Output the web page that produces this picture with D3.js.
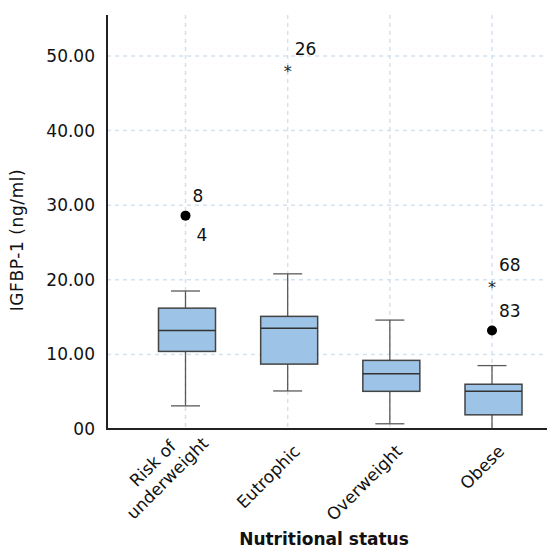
<!DOCTYPE html>
<html>
<head>
<meta charset="utf-8">
<script src="https://cdn.jsdelivr.net/npm/d3@7"></script>
<style>
  html, body { margin: 0; padding: 0; background: #fff; }
  svg { display: block; font-family: "DejaVu Sans", Verdana, sans-serif; }
</style>
</head>
<body>
<svg id="chart" width="550" height="548"></svg>
<script>
// ---- data ----
const categories = ["Risk of underweight", "Eutrophic", "Overweight", "Obese"];
const categoryLines = [["Risk of", "underweight"], ["Eutrophic"], ["Overweight"], ["Obese"]];
const whiskerLow  = [3.1, 5.1, 0.7, 0.0];
const q1          = [10.4, 8.7, 5.05, 1.9];
const median      = [13.2, 13.5, 7.4, 5.05];
const q3          = [16.2, 15.1, 9.2, 6.0];
const whiskerHigh = [18.5, 20.8, 14.6, 8.5];
// outliers: category index, value, case label(s), kind
const outlierCat    = [0, 1, 3, 3];
const outlierValue  = [28.6, 48.3, 19.3, 13.2];
const outlierLabels = [["8", "4"], ["26"], ["68"], ["83"]];
const outlierKind   = ["dot", "star", "star", "dot"];
const yTicks = [0, 10, 20, 30, 40, 50];
const yTickLabels = ["00", "10.00", "20.00", "30.00", "40.00", "50.00"];

// ---- layout ----
const svg = d3.select("#chart");
const plotLeft = 107, plotRight = 547, plotTop = 15, plotBottom = 429;

const y = d3.scaleLinear().domain([0, 55.5]).range([plotBottom, plotTop]);
const x = d3.scalePoint().domain(categories).range([185.5, 492]);

const gridColor = "#d3e2f0";
const fs = 17;

// horizontal grid
svg.append("g").selectAll("line").data(yTicks.filter(d => d > 0)).join("line")
  .attr("x1", plotLeft).attr("x2", plotRight)
  .attr("y1", d => y(d)).attr("y2", d => y(d))
  .attr("stroke", gridColor).attr("stroke-width", 1.5).attr("stroke-dasharray", "4,4");

// vertical grid
svg.append("g").selectAll("line").data(categories).join("line")
  .attr("x1", d => x(d)).attr("x2", d => x(d))
  .attr("y1", plotTop).attr("y2", plotBottom)
  .attr("stroke", gridColor).attr("stroke-width", 1.5).attr("stroke-dasharray", "4,4");

// y axis via d3
const yAxis = d3.axisLeft(y).tickValues(yTicks)
  .tickFormat((d, i) => yTickLabels[i]).tickSize(0).tickPadding(12);
const gy = svg.append("g").attr("transform", `translate(${plotLeft},0)`).call(yAxis);
gy.select(".domain").remove();
gy.selectAll("text").attr("font-size", fs).attr("fill", "#111")
  .attr("font-family", "DejaVu Sans, Verdana, sans-serif");

// boxes
const boxW = 57, capW = 29;
const boxes = svg.append("g");
categories.forEach((c, i) => {
  const cx = x(c);
  const g = boxes.append("g");
  g.append("line").attr("x1", cx).attr("x2", cx)
    .attr("y1", y(whiskerHigh[i])).attr("y2", y(q3[i]))
    .attr("stroke", "#5a5a5a").attr("stroke-width", 1.3);
  g.append("line").attr("x1", cx).attr("x2", cx)
    .attr("y1", y(q1[i])).attr("y2", y(whiskerLow[i]))
    .attr("stroke", "#5a5a5a").attr("stroke-width", 1.3);
  [whiskerHigh[i], whiskerLow[i]].forEach(v => {
    if (v <= 0) return;
    g.append("line").attr("x1", cx - capW / 2).attr("x2", cx + capW / 2)
      .attr("y1", y(v)).attr("y2", y(v))
      .attr("stroke", "#5a5a5a").attr("stroke-width", 1.3);
  });
  g.append("rect").attr("x", cx - boxW / 2 + 1.5).attr("width", boxW)
    .attr("y", y(q3[i])).attr("height", y(q1[i]) - y(q3[i]))
    .attr("fill", "#9dc3e6").attr("stroke", "#444").attr("stroke-width", 1.5);
  g.append("line").attr("x1", cx - boxW / 2 + 1.5).attr("x2", cx + boxW / 2 + 1.5)
    .attr("y1", y(median[i])).attr("y2", y(median[i]))
    .attr("stroke", "#333").attr("stroke-width", 1.5);
});

// outliers
const outG = svg.append("g");
outlierValue.forEach((v, k) => {
  const cx = x(categories[outlierCat[k]]);
  const cy = y(v);
  if (outlierKind[k] === "dot") {
    outG.append("circle").attr("cx", cx).attr("cy", cy).attr("r", 5).attr("fill", "#000");
  } else {
    outG.append("text").attr("x", cx).attr("y", cy + 8).attr("text-anchor", "middle")
      .attr("font-size", 16).attr("fill", "#222").text("*");
  }
  const labs = outlierLabels[k];
  outG.append("text").attr("x", cx + 7).attr("y", cy - 14)
    .attr("font-size", fs).attr("fill", "#111").text(labs[0]);
  if (labs.length > 1) {
    outG.append("text").attr("x", cx + 11).attr("y", cy + 25)
      .attr("font-size", fs).attr("fill", "#111").text(labs[1]);
  }
});

// axes lines
svg.append("line").attr("x1", plotLeft).attr("x2", plotLeft)
  .attr("y1", plotTop).attr("y2", plotBottom + 1)
  .attr("stroke", "#222").attr("stroke-width", 2);
svg.append("line").attr("x1", plotLeft - 1).attr("x2", plotRight)
  .attr("y1", plotBottom).attr("y2", plotBottom)
  .attr("stroke", "#222").attr("stroke-width", 2);

// category labels (rotated -45, lines centred on each other)
const catG = svg.append("g");
const lh = 21;
categories.forEach((c, i) => {
  const lines = categoryLines[i];
  const n = lines.length;
  const g = catG.append("g")
    .attr("transform", `translate(${x(c)},${plotBottom}) rotate(-45)`);
  const lastY = n > 1 ? 28 : 26;
  const texts = lines.map((ln, j) => g.append("text")
    .attr("font-size", fs).attr("fill", "#111")
    .attr("text-anchor", "middle")
    .attr("y", lastY - (n - 1 - j) * lh)
    .text(ln));
  const maxW = d3.max(texts, t => t.node().getComputedTextLength());
  const endX = n > 1 ? 6 : -7;
  texts.forEach(t => t.attr("x", endX - maxW / 2));
});

// axis titles
svg.append("text").attr("transform", `translate(23,240) rotate(-90)`)
  .attr("text-anchor", "middle").attr("font-size", fs).attr("letter-spacing", 0.6)
  .attr("fill", "#111").text("IGFBP-1 (ng/ml)");
svg.append("text").attr("x", 324).attr("y", 545)
  .attr("text-anchor", "middle").attr("font-size", 17).attr("font-weight", "bold")
  .attr("fill", "#111").text("Nutritional status");
</script>
</body>
</html>
